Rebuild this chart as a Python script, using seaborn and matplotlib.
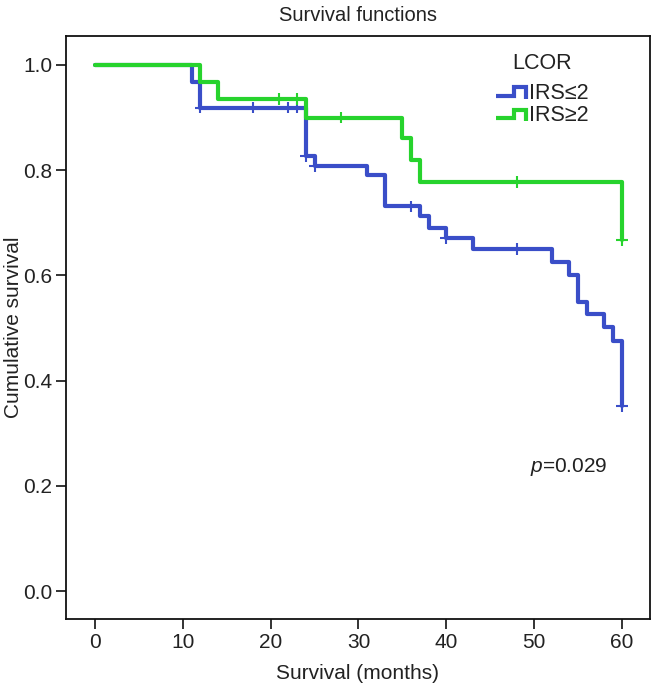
import numpy as np
import pandas as pd
import matplotlib
matplotlib.use("Agg")
import matplotlib.pyplot as plt
import seaborn as sns
from matplotlib.lines import Line2D
from matplotlib.legend_handler import HandlerBase

# ---- data ----
groups = ["IRS≤2", "IRS≥2"]
blue_times = [0, 11, 12, 24, 25, 31, 33, 37, 38, 40, 43, 52, 54, 55, 56, 58, 59, 60]
blue_surv = [1.0, 0.968, 0.919, 0.826, 0.808, 0.790, 0.731, 0.712, 0.691, 0.671,
             0.650, 0.625, 0.601, 0.550, 0.526, 0.501, 0.476, 0.351]
blue_cens_t = [12, 18, 22, 23, 24, 25, 36, 40, 48, 60]
blue_cens_s = [0.919, 0.919, 0.919, 0.919, 0.826, 0.808, 0.731, 0.671, 0.650, 0.351]

green_times = [0, 12, 14, 24, 35, 36, 37, 60]
green_surv = [1.0, 0.968, 0.935, 0.900, 0.862, 0.819, 0.778, 0.667]
green_cens_t = [21, 23, 28, 48, 60]
green_cens_s = [0.935, 0.935, 0.900, 0.778, 0.667]

x_ticks = [0, 10, 20, 30, 40, 50, 60]
y_ticks = [0.0, 0.2, 0.4, 0.6, 0.8, 1.0]
p_text = "=0.029"

colors = {"IRS≤2": "#3a4ec8", "IRS≥2": "#27d32d"}

curves = pd.concat([
    pd.DataFrame({"time": blue_times, "surv": blue_surv, "group": groups[0]}),
    pd.DataFrame({"time": green_times, "surv": green_surv, "group": groups[1]}),
], ignore_index=True)
cens = pd.concat([
    pd.DataFrame({"time": blue_cens_t, "surv": blue_cens_s, "group": groups[0]}),
    pd.DataFrame({"time": green_cens_t, "surv": green_cens_s, "group": groups[1]}),
], ignore_index=True)

sns.set_style("ticks")
plt.rcParams["font.family"] = ["Liberation Sans", "DejaVu Sans"]
plt.rcParams["mathtext.fontset"] = "custom"
plt.rcParams["mathtext.it"] = "Liberation Sans:italic"
plt.rcParams["mathtext.rm"] = "Liberation Sans"

txt = "#222222"
fig = plt.figure(figsize=(6.57, 6.90), dpi=100)
ax = fig.add_axes([66 / 657, 1 - 619 / 690, (650 - 66) / 657, (619 - 36) / 690])

sns.lineplot(data=curves, x="time", y="surv", hue="group", palette=colors,
             estimator=None, sort=False, drawstyle="steps-post",
             linewidth=3.0, legend=False, ax=ax)
sns.scatterplot(data=cens, x="time", y="surv", hue="group", palette=colors,
                marker="+", s=70, linewidth=1.5, legend=False, ax=ax, zorder=3)

ax.set_xlim(-3.3, 63.2)
ax.set_ylim(-0.053, 1.055)
ax.set_xticks(x_ticks)
ax.set_yticks(y_ticks)
ax.set_yticklabels([f"{v:.1f}" for v in y_ticks])
ax.tick_params(direction="out", length=7, width=1.2, labelsize=15, colors="#111111",
               labelcolor=txt, pad=3)
for s in ax.spines.values():
    s.set_visible(True)
    s.set_linewidth(1.3)
    s.set_color("#111111")

ax.set_xlabel("Survival (months)", fontsize=15, color=txt, labelpad=9)
ax.set_ylabel("Cumulative survival", fontsize=15, color=txt)
ax.yaxis.set_label_coords(-0.074, 0.5)
ax.set_title("Survival functions", fontsize=14.5, color=txt, pad=11)

ax.text(49.5, 0.236, r"$p$" + p_text, fontsize=15, color=txt, va="center", ha="left")


class StepHandler(HandlerBase):
    def create_artists(self, legend, orig_handle, xdescent, ydescent, width, height,
                       fontsize, trans):
        xs = np.array([0, 0.6, 0.6, 1.0, 1.0]) * width - xdescent
        ys = np.array([0.2, 0.2, 0.77, 0.77, 0.0]) * height - ydescent
        ln = Line2D(xs, ys, color=orig_handle.get_color(),
                    linewidth=orig_handle.get_linewidth(), solid_joinstyle="miter",
                    solid_capstyle="butt")
        ln.set_transform(trans)
        return [ln]


handles = [Line2D([0], [0], color=colors[g], linewidth=3.0) for g in groups]
leg = ax.legend(handles, groups, title="LCOR", handler_map={Line2D: StepHandler()},
                loc="upper right", bbox_to_anchor=(0.91, 0.985), frameon=False,
                fontsize=15.5, title_fontsize=15.5, handlelength=1.4,
                handletextpad=0.14, labelspacing=0.08, borderaxespad=0)
leg._legend_box.sep = 6
leg.get_title().set_color(txt)
for t in leg.get_texts():
    t.set_color(txt)

fig.savefig("out.png", dpi=100)
